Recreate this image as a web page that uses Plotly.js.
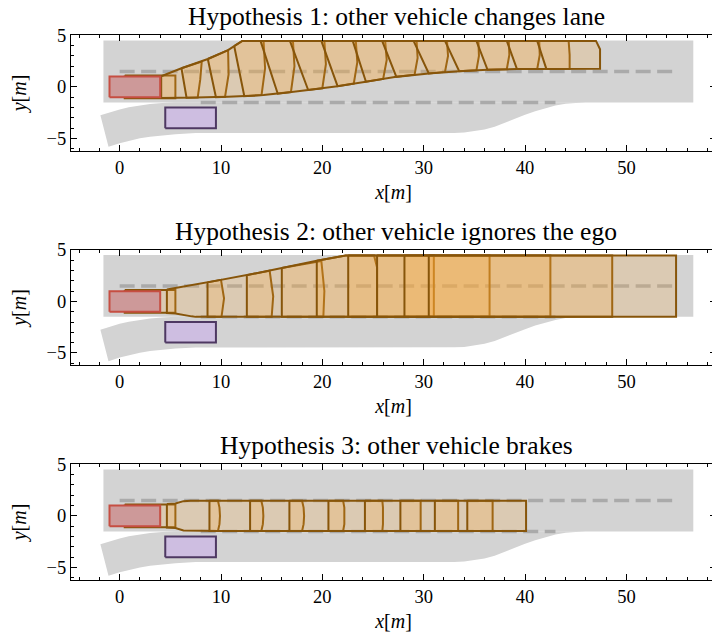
<!DOCTYPE html>
<html>
<head>
<meta charset="utf-8">
<script src="https://cdn.plot.ly/plotly-3.0.1.min.js"></script>
<style>
html,body{margin:0;padding:0;overflow:hidden;background:#fff;}
#chart{width:716px;height:635px;}
</style>
</head>
<body>
<div id="chart"></div>
<script>
// ---------- data ----------
const titles = [
  "Hypothesis 1: other vehicle changes lane",
  "Hypothesis 2: other vehicle ignores the ego",
  "Hypothesis 3: other vehicle brakes"
];

// main road (rectangle)
const road_x = [-1.6, 56.6, 56.6, -1.6];
const road_y = [-1.5, -1.5, 4.5, 4.5];

// merging lane (curved on-ramp)
const ramp_x = [-1.9, -1.0, 0.0, 0.9, 2.0, 3.0, 4.2, 5.5, 46.0, 45.0, 44.0, 43.0, 42.0, 41.0, 40.0, 39.0, 38.0, 37.0, 36.0, 35.0, 34.0, 33.0, 10.0, 7.5, 5.5, 4.2, 3.0, 2.0, 0.9, 0.0, -1.1];
const ramp_y = [-2.75, -2.45, -2.18, -1.97, -1.78, -1.65, -1.55, -1.48, -1.48, -1.52, -1.62, -1.8, -2.05, -2.35, -2.7, -3.1, -3.5, -3.85, -4.12, -4.3, -4.42, -4.45, -4.45, -4.47, -4.57, -4.68, -4.82, -4.98, -5.2, -5.45, -5.8];

// lane markings
const mark1_x = [0, 55];
const mark1_y = [1.5, 1.5];
const mark2_x = [8, 43];
const mark2_y = [-1.5, -1.5];

// other vehicle (red) and ego vehicle (purple)
const other_x = [-1, 4, 4, -1];
const other_y = [-1, -1, 1, 1];
const ego_x = [4.5, 9.5, 9.5, 4.5];
const ego_y = [-4, -4, -2, -2];

// predicted occupancies, hypothesis 1 (lane change)
const h1_x = [
  [0.5, 5.5, 5.5, 0.5],
  [4.1, 5.5, 6.1, 8.1, 7.95, 7.7, 5.5, 4.1],
  [6.1, 8.1, 8.7, 10.7, 10.75, 10.4, 8.1, 6.6],
  [8.7, 10.7, 11.3, 12.1, 14.2, 14.35, 14.0, 12.3, 10.7, 9.5],
  [11.3, 12.1, 17.1, 17.25, 16.9, 15.6, 14.2, 12.3],
  [13.9, 20.2, 20.35, 20.0, 18.6, 17.1, 15.6],
  [16.8, 23.3, 23.45, 23.1, 21.5, 20.2, 18.6],
  [19.9, 26.2, 26.35, 26.0, 24.3, 23.3, 21.5],
  [23.0, 29.3, 29.4, 29.1, 27.3, 26.2, 24.3],
  [25.9, 32.3, 32.4, 32.1, 30.5, 29.3, 27.3],
  [29.0, 35.4, 35.45, 35.2, 33.5, 32.3, 30.5],
  [32.1, 38.4, 38.45, 38.2, 36.3, 35.4, 33.5],
  [35.2, 41.4, 41.45, 41.2, 39.2, 38.4, 36.3],
  [38.2, 44.3, 44.4, 44.4, 41.4, 39.2],
  [41.2, 47.0, 47.4, 47.4, 42.1]
];
const h1_y = [
  [1.1, 1.1, -1.1, -1.1],
  [1.03, 1.55, 1.8, 2.45, 0.7, -1.03, -1.06, -1.07],
  [1.8, 2.45, 2.7, 3.55, 1.2, -0.96, -1.02, -1.05],
  [2.7, 3.55, 3.95, 4.45, 4.45, 1.8, -0.8, -0.9, -0.95, -0.99],
  [3.95, 4.45, 4.45, 2.0, -0.5, -0.66, -0.78, -0.9],
  [4.45, 4.45, 2.2, -0.13, -0.3, -0.48, -0.66],
  [4.45, 4.45, 2.4, 0.32, 0.07, -0.11, -0.3],
  [4.45, 4.45, 2.6, 0.77, 0.5, 0.35, 0.07],
  [4.45, 4.45, 2.8, 1.18, 0.97, 0.8, 0.5],
  [4.45, 4.45, 3.0, 1.45, 1.3, 1.2, 0.97],
  [4.45, 4.45, 3.0, 1.6, 1.52, 1.46, 1.3],
  [4.45, 4.45, 3.1, 1.71, 1.65, 1.61, 1.52],
  [4.45, 4.45, 3.1, 1.74, 1.72, 1.71, 1.65],
  [4.45, 4.45, 3.1, 1.75, 1.74, 1.72],
  [4.45, 4.45, 3.64, 1.75, 1.74]
];

// hypothesis 2 (ignores the ego)
const h2_x = [
  [0.5, 5.5, 5.5, 0.5],
  [4.66, 5.5, 8.67, 10.0, 10.3, 10.05, 7.5, 7.1, 5.5, 4.66],
  [8.67, 12.55, 14.8, 15.15, 15.0, 8.67],
  [12.55, 16.0, 19.9, 20.2, 20.1, 12.55],
  [16.0, 19.45, 22.3, 25.1, 25.4, 25.4, 16.0],
  [19.45, 22.3, 31.0, 31.0, 19.45],
  [22.55, 36.5, 36.5, 22.55],
  [25.4, 42.5, 42.5, 25.4],
  [28.1, 48.6, 48.6, 28.1],
  [30.5, 54.9, 54.9, 30.5]
];
const h2_y = [
  [1.1, 1.1, -1.1, -1.1],
  [1.15, 1.3, 1.85, 2.1, 0.3, -1.5, -1.5, -1.45, -1.17, -1.12],
  [1.85, 2.55, 2.98, 0.5, -1.5, -1.5],
  [2.55, 3.25, 3.93, 1.0, -1.5, -1.5],
  [3.25, 3.95, 4.45, 4.45, 3.3, -1.5, -1.5],
  [3.95, 4.45, 4.45, -1.5, -1.5],
  [4.45, 4.45, -1.5, -1.5],
  [4.45, 4.45, -1.5, -1.5],
  [4.45, 4.45, -1.5, -1.5],
  [4.45, 4.45, -1.5, -1.5]
];

// hypothesis 3 (brakes)
const h3_x = [
  [0.5, 5.5, 5.5, 0.5],
  [4.66, 5.5, 6.3, 7.0, 9.7, 9.85, 9.9, 9.85, 9.7, 7.0, 6.3, 5.5, 4.66],
  [8.86, 13.98, 14.13, 14.18, 14.13, 13.98, 8.86],
  [12.87, 18.0, 18.15, 18.2, 18.15, 18.0, 12.87],
  [16.75, 22.05, 22.17, 22.2, 22.17, 22.05, 16.75],
  [20.6, 25.92, 25.98, 26.0, 25.98, 25.92, 20.6],
  [24.2, 29.7, 29.7, 24.2],
  [27.7, 33.4, 33.4, 27.7],
  [31.1, 36.8, 36.8, 31.1],
  [34.3, 40.1, 40.1, 34.3]
];
const h3_y = [
  [1.1, 1.1, -1.1, -1.1],
  [1.15, 1.2, 1.43, 1.47, 1.47, 0.8, 0.0, -0.8, -1.45, -1.45, -1.4, -1.18, -1.13],
  [1.47, 1.47, 0.8, 0.0, -0.8, -1.45, -1.45],
  [1.47, 1.47, 0.8, 0.0, -0.8, -1.45, -1.45],
  [1.47, 1.47, 0.8, 0.0, -0.8, -1.45, -1.45],
  [1.47, 1.47, 0.8, 0.0, -0.8, -1.45, -1.45],
  [1.47, 1.47, -1.45, -1.45],
  [1.47, 1.47, -1.45, -1.45],
  [1.47, 1.47, -1.45, -1.45],
  [1.47, 1.47, -1.45, -1.45]
];

const occ_x = [h1_x, h2_x, h3_x];
const occ_y = [h1_y, h2_y, h3_y];

// ---------- styling ----------
const FONT = "Liberation Serif, Times New Roman, serif";
const ROAD = "#d3d3d3";
const MARK = "#aaaaaa";
const OCC_FILL = "rgba(255,172,55,0.2)";
const OCC_LINE = "rgb(135,85,10)";
const suffix = ["", "2", "3"];
const ydom = [[0.7872, 1], [0.394, 0.606], [0, 0.2128]];

function closed(a) { return a.concat([a[0]]); }
function poly(xs, ys, k, fill, lcol, lw) {
  return {
    type: "scatter", mode: "lines",
    x: closed(xs), y: closed(ys),
    fill: "toself", fillcolor: fill,
    line: { color: lcol, width: lw },
    xaxis: "x" + suffix[k], yaxis: "y" + suffix[k],
    hoverinfo: "skip", showlegend: false
  };
}
function dashLine(xs, ys, k) {
  return {
    type: "scatter", mode: "lines", x: xs, y: ys,
    line: { color: MARK, width: 3.5, dash: "15px,6.5px" },
    xaxis: "x" + suffix[k], yaxis: "y" + suffix[k],
    hoverinfo: "skip", showlegend: false
  };
}

const traces = [];
for (let k = 0; k < 3; k++) {
  traces.push(poly(road_x, road_y, k, ROAD, ROAD, 0));
  traces.push(poly(ramp_x, ramp_y, k, ROAD, ROAD, 0));
  traces.push(dashLine(mark1_x, mark1_y, k));
  traces.push(dashLine(mark2_x, mark2_y, k));
  for (let i = 0; i < occ_x[k].length; i++) {
    traces.push(poly(occ_x[k][i], occ_y[k][i], k, OCC_FILL, OCC_LINE, 2));
  }
  traces.push(poly(other_x, other_y, k, "rgb(205,153,153)", "rgb(198,78,66)", 2));
  traces.push(poly(ego_x, ego_y, k, "rgb(206,190,225)", "rgb(78,56,98)", 2));
}

const layout = {
  width: 716, height: 635,
  margin: { l: 71, r: 0, t: 35, b: 55 },
  paper_bgcolor: "#fff", plot_bgcolor: "#fff",
  font: { family: FONT, color: "#000", size: 18 },
  showlegend: false,
  annotations: titles.map((t, i) => ({
    text: t, xref: "paper", yref: "paper", x: 0.504, y: ydom[i][1],
    xanchor: "center", yanchor: "bottom", yshift: 2, showarrow: false,
    font: { family: FONT, size: 25.5, color: "#000" }
  }))
};

for (let k = 0; k < 3; k++) {
  layout["xaxis" + suffix[k]] = {
    domain: [0, 1], anchor: "y" + suffix[k],
    range: [-4.8, 58.84], tick0: 0, dtick: 10,
    ticks: "inside", ticklen: 6, tickwidth: 1, tickcolor: "#000",
    showline: true, linecolor: "#000", linewidth: 1, mirror: "ticks",
    showgrid: false, zeroline: false,
    minor: { ticks: "inside", tick0: 0, dtick: 2, ticklen: 3, tickwidth: 1, tickcolor: "#000", showgrid: false },
    tickfont: { family: FONT, size: 18.5, color: "#000" },
    title: { text: "<i>x</i>[<i>m</i>]", font: { family: FONT, size: 20, color: "#000" }, standoff: 7 },
    fixedrange: true
  };
  layout["yaxis" + suffix[k]] = {
    domain: ydom[k], anchor: "x" + suffix[k],
    range: [-6.2, 5.02], tick0: 0, dtick: 5,
    ticks: "inside", ticklen: 6, tickwidth: 1, tickcolor: "#000",
    showline: true, linecolor: "#000", linewidth: 1, mirror: "ticks",
    showgrid: false, zeroline: false,
    minor: { ticks: "inside", tick0: 0, dtick: 1, ticklen: 3, tickwidth: 1, tickcolor: "#000", showgrid: false },
    tickfont: { family: FONT, size: 18.5, color: "#000" },
    title: { text: "<i>y</i>[<i>m</i>]", font: { family: FONT, size: 20, color: "#000" }, standoff: 14 },
    fixedrange: true
  };
}

Plotly.newPlot("chart", traces, layout, { displayModeBar: false, staticPlot: true });
</script>
</body>
</html>
